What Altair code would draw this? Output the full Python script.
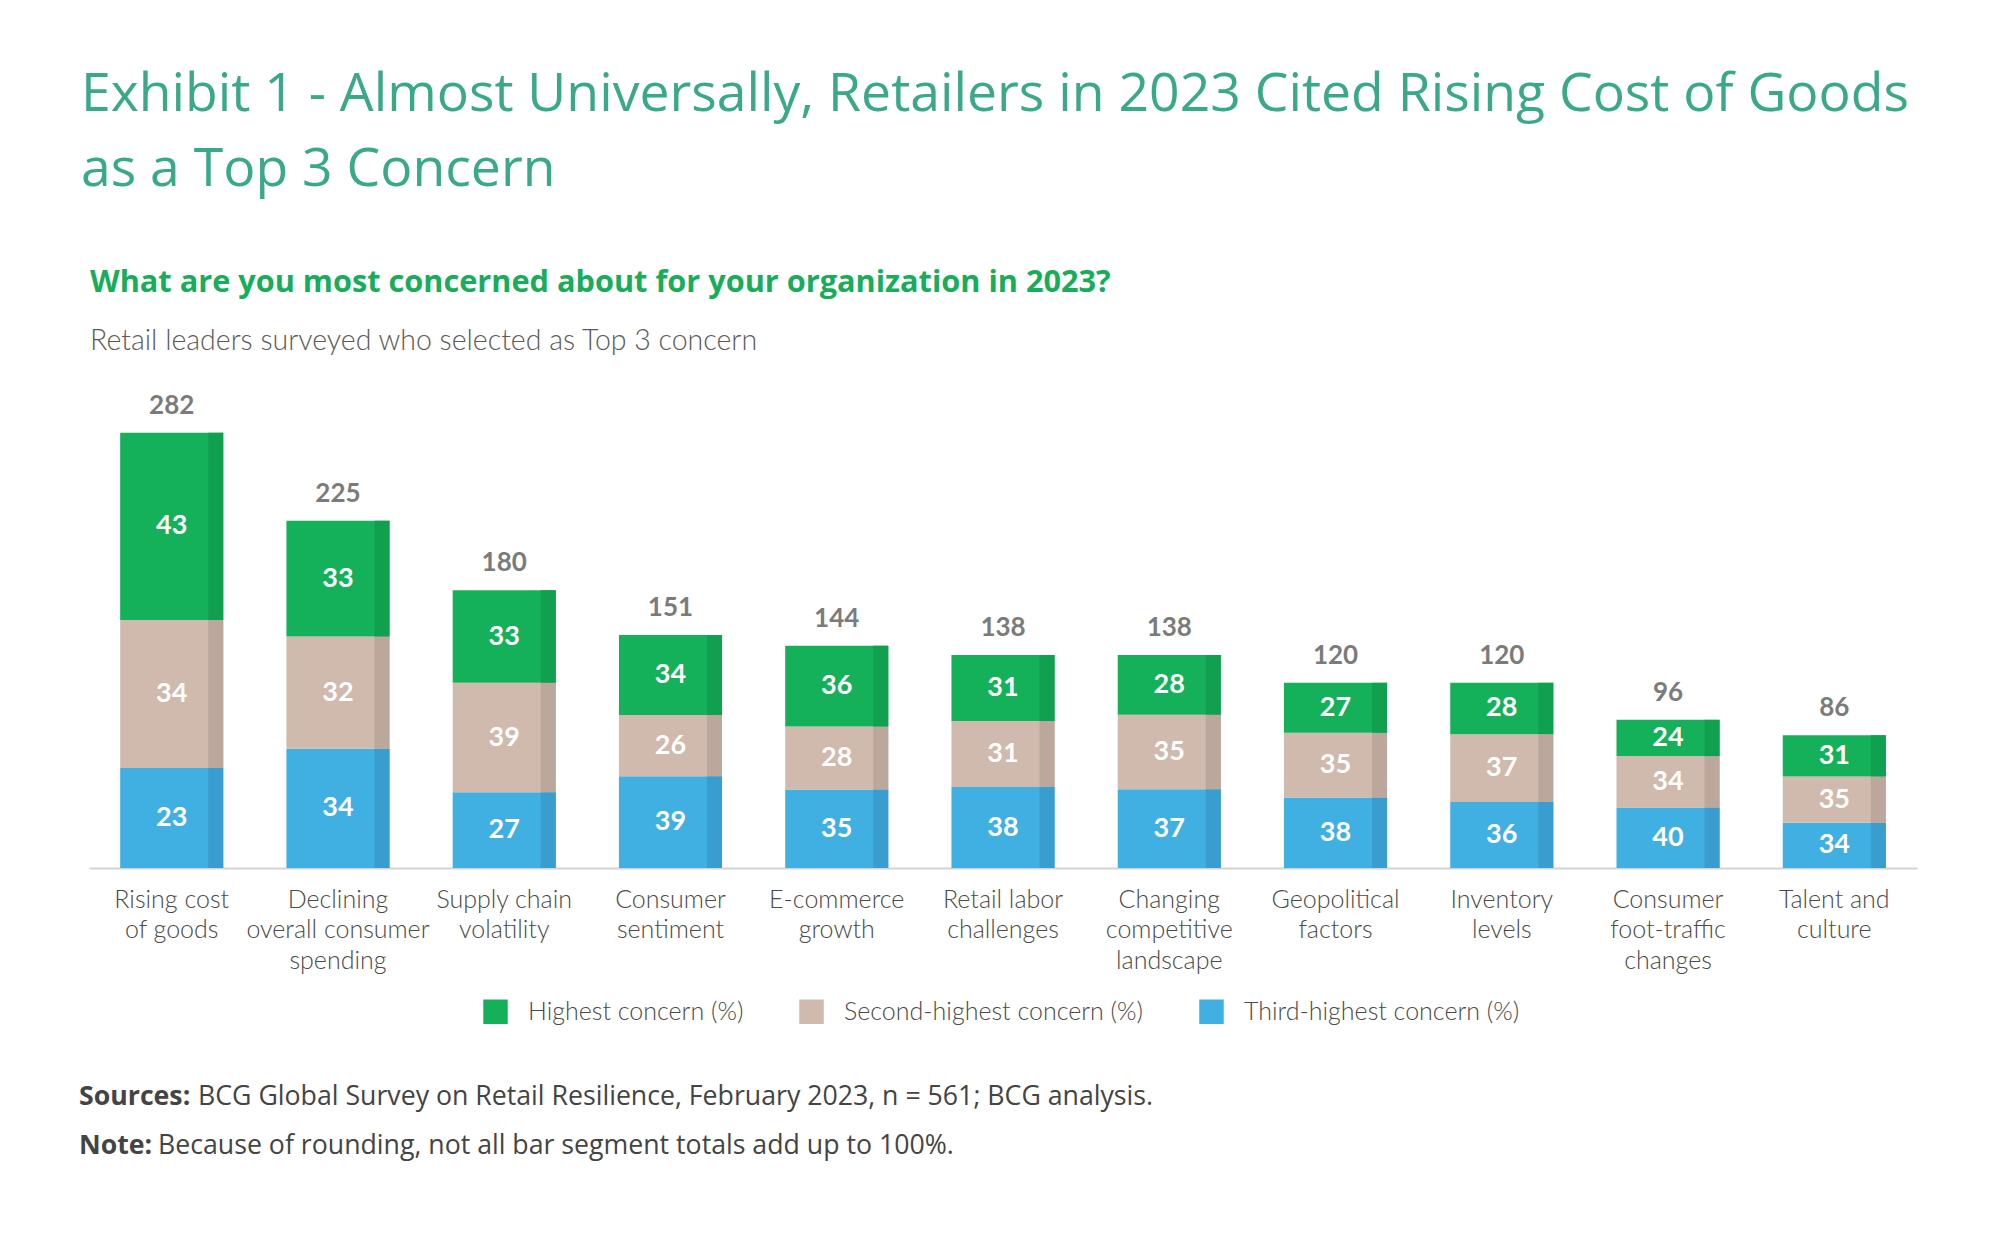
import altair as alt
import pandas as pd

# ---------------- data ----------------
categories = [
    "Rising cost\nof goods",
    "Declining\noverall consumer\nspending",
    "Supply chain\nvolatility",
    "Consumer\nsentiment",
    "E-commerce\ngrowth",
    "Retail labor\nchallenges",
    "Changing\ncompetitive\nlandscape",
    "Geopolitical\nfactors",
    "Inventory\nlevels",
    "Consumer\nfoot-traffic\nchanges",
    "Talent and\nculture",
]
totals = [282, 225, 180, 151, 144, 138, 138, 120, 120, 96, 86]
highest = [43, 33, 33, 34, 36, 31, 28, 27, 28, 24, 31]
second = [34, 32, 39, 26, 28, 31, 35, 35, 37, 34, 35]
third = [23, 34, 27, 39, 35, 38, 37, 38, 36, 40, 34]

series_names = ["Highest concern (%)", "Second-highest concern (%)", "Third-highest concern (%)"]
series_colors = ["#14b15a", "#d0b9ad", "#40b0e3"]
series_dark = ["#11a04f", "#bba79b", "#3a9dd0"]

title_lines = [
    "Exhibit 1 - Almost Universally, Retailers in 2023 Cited Rising Cost of Goods",
    "as a Top 3 Concern",
]
question = "What are you most concerned about for your organization in 2023?"
subtitle = "Retail leaders surveyed who selected as Top 3 concern"
src_bold = "Sources:"
src_text = "BCG Global Survey on Retail Resilience, February 2023, n = 561; BCG analysis."
note_bold = "Note:"
note_text = "Because of rounding, not all bar segment totals add up to 100%."

# ---------------- table ----------------
rows = []
for i, cat in enumerate(categories):
    parts = [(series_names[2], third[i]), (series_names[1], second[i]), (series_names[0], highest[i])]
    s = sum(p for _, p in parts)
    base = 0.0
    for order, (name, p) in enumerate(parts):
        h = totals[i] * p / s
        rows.append(dict(cat=cat, series=name, pct=p, y0=base, y1=base + h, ymid=base + h / 2, order=order))
        base += h
df = pd.DataFrame(rows)
df_tot = pd.DataFrame({"cat": categories, "total": totals})

FONT = "Lato"
TFONT = "Open Sans"
W, H = 1828, 463
PI, PO = 0.38, 0.1875

xenc = alt.X(
    "cat:N",
    sort=categories,
    scale=alt.Scale(paddingInner=PI, paddingOuter=PO),
    axis=alt.Axis(
        title=None, labelAngle=0, ticks=False, domainColor="#d4d4d4", domainWidth=2,
        labelExpr="split(datum.label, '\\n')", labelFont=FONT, labelFontSize=25,
        labelFontWeight=300, labelColor="#4a4a4a", labelLineHeight=30.5, labelPadding=19,
        labelBaseline="top", grid=False, labelLimit=0,
    ),
)
yscale = alt.Scale(domain=[0, 300], nice=False)

base = alt.Chart(df)

bars = base.mark_bar().encode(
    x=xenc,
    y=alt.Y("y1:Q", scale=yscale, axis=None),
    y2="y0:Q",
    color=alt.Color(
        "series:N",
        scale=alt.Scale(domain=series_names, range=series_colors),
        legend=alt.Legend(
            title=None, orient="none", legendX=394, legendY=594, direction="horizontal",
            symbolType="square", symbolSize=600, symbolStrokeWidth=0, symbolOpacity=1,
            labelFont=FONT, labelFontSize=25, labelFontWeight=300, labelColor="#4a4a4a",
            labelOffset=20, columnPadding=55, padding=0, labelLimit=0,
        ),
    ),
)

bw = W / (11 - PI + 2 * PO) * (1 - PI)
strips = base.mark_bar(width=15, xOffset=bw / 2 - 7.5).encode(
    x=xenc,
    y=alt.Y("y1:Q", scale=yscale, axis=None),
    y2="y0:Q",
    color=alt.Color("series:N", scale=alt.Scale(domain=series_names, range=series_dark), legend=None),
)

seg_labels = base.mark_text(
    color="white", font=FONT, fontWeight="bold", fontSize=27, baseline="middle"
).encode(x=xenc, y=alt.Y("ymid:Q", scale=yscale, axis=None), text="pct:Q")

tot_labels = alt.Chart(df_tot).mark_text(
    color="#7b7b7b", font=FONT, fontWeight="bold", fontSize=26, baseline="alphabetic", dy=-19
).encode(x=xenc, y=alt.Y("total:Q", scale=yscale, axis=None), text="total:Q")


def txt(t, x, y, size, color, weight="normal", font=TFONT, **kw):
    return alt.Chart(pd.DataFrame({"t": [t]})).mark_text(
        align="left", baseline="alphabetic", font=font, fontSize=size, color=color,
        fontWeight=weight, **kw
    ).encode(x=alt.value(x), y=alt.value(y), text="t:N")


texts = [
    txt(title_lines[0], -8, -294, 53.5, "#3aa98a"),
    txt(title_lines[1], -8, -219, 53.5, "#3aa98a"),
    txt(question, 1, -113, 30.7, "#17ad5a", "bold"),
    txt(subtitle, 1, -55, 28.5, "#5a5a5a", 300, FONT),
    txt(src_bold, -10, 700, 26.7, "#444444", "bold"),
    txt(src_text, 109, 700, 26.7, "#444444"),
    txt(note_bold, -10, 749, 26.7, "#444444", "bold"),
    txt(note_text, 69, 749, 26.7, "#444444"),
]

chart = (
    alt.layer(bars, strips, seg_labels, tot_labels, *texts)
    .resolve_scale(color="independent")
    .properties(
        width=W, height=H,
        autosize=alt.AutoSizeParams(type="none"),
        padding={"left": 81, "top": 397, "right": 60, "bottom": 340},
        background="white",
    )
    .configure_view(stroke=None)
)

chart.save("out.html", embed_options={"renderer": "svg", "actions": False})
